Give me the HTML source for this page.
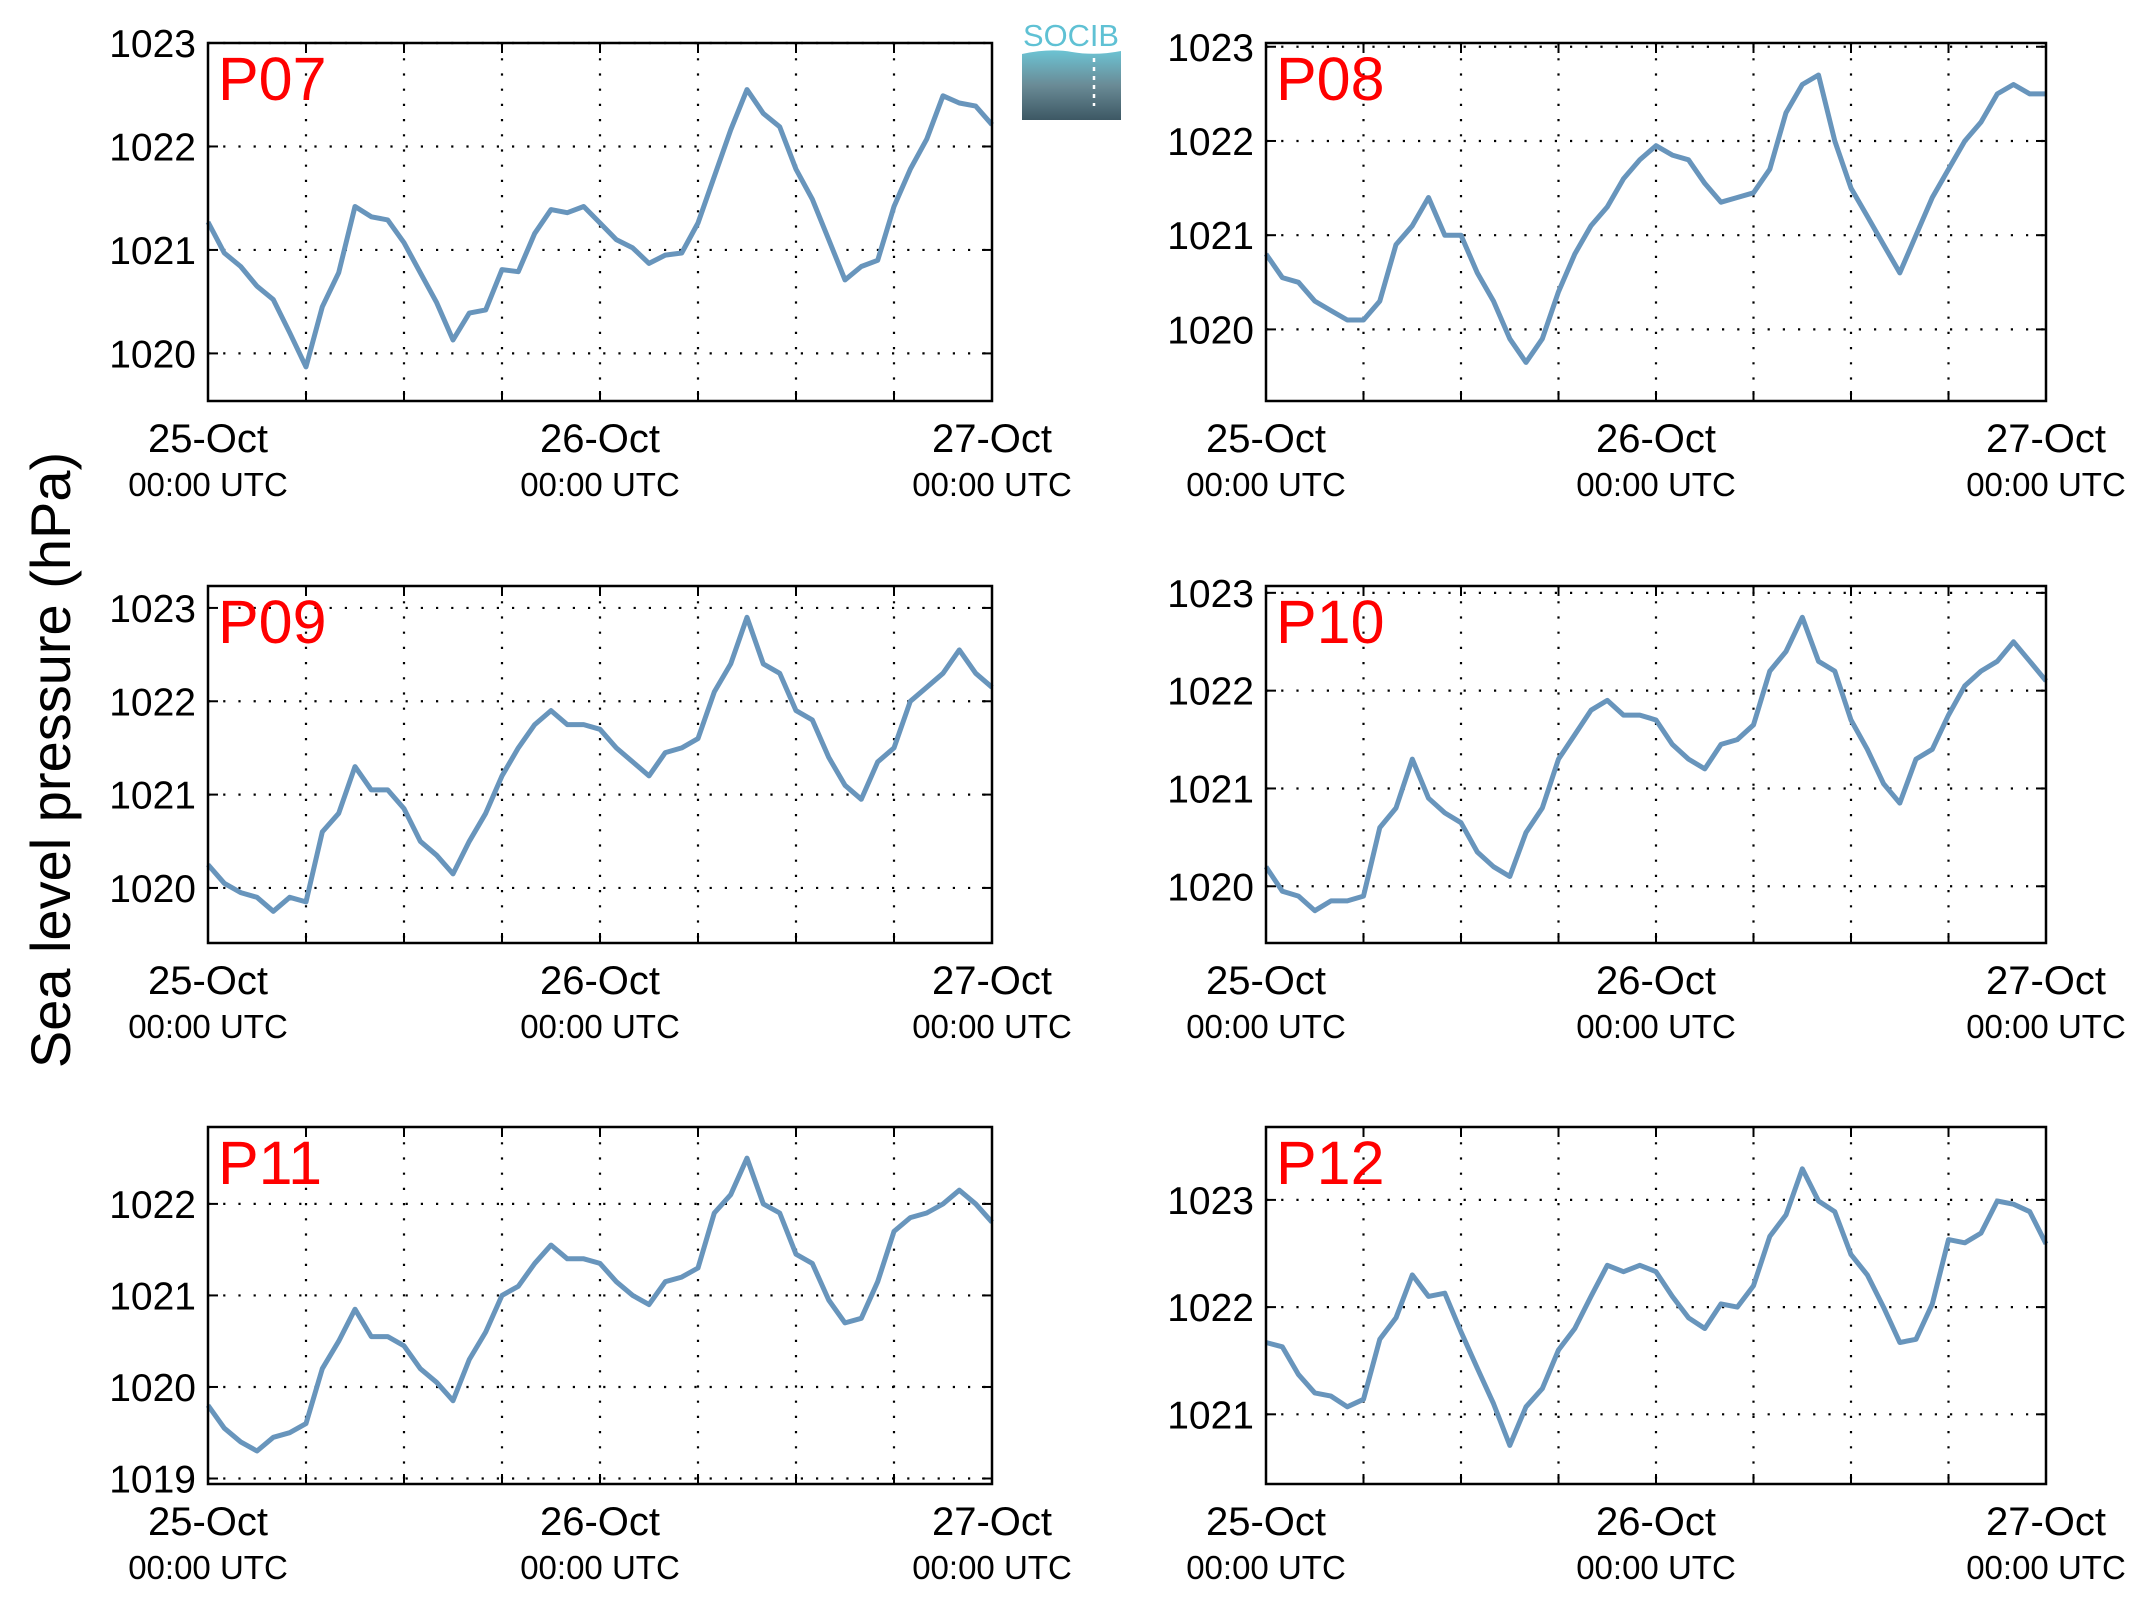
<!DOCTYPE html>
<html><head><meta charset="utf-8">
<style>
html,body{margin:0;padding:0;background:#fff;}
svg{display:block;font-family:"Liberation Sans",Arial,sans-serif;}
</style></head>
<body>
<svg id="chart" width="2138" height="1608" viewBox="0 0 2138 1608" xmlns="http://www.w3.org/2000/svg">
<defs>
<linearGradient id="lg" x1="0" y1="0" x2="0" y2="1">
<stop offset="0" stop-color="#6cc3d3"/><stop offset="0.5" stop-color="#6a8b96"/><stop offset="1" stop-color="#3d5864"/>
</linearGradient>
</defs>
<text x="0" y="0" transform="translate(70,760) rotate(-90)" text-anchor="middle" font-size="56">Sea level pressure (hPa)</text>
<g>
<text x="1071" y="46" text-anchor="middle" font-size="31" fill="#5fc1d4" textLength="96" lengthAdjust="spacingAndGlyphs">SOCIB</text>
<path d="M1022 54 Q1050 48 1072 52 Q1095 56 1121 51 L1121 120 L1022 120 Z" fill="url(#lg)"/>
<line x1="1094" y1="58" x2="1094" y2="106" stroke="#fff" stroke-width="2.5" stroke-dasharray="4,5"/>
</g>
</svg>
<script>
// Panel titles
const stations = ["P07","P08","P09","P10","P11","P12"];
// Hourly time index (hours since 25-Oct 00:00 UTC)
const hours = [0,1,2,3,4,5,6,7,8,9,10,11,12,13,14,15,16,17,18,19,20,21,22,23,24,25,26,27,28,29,30,31,32,33,34,35,36,37,38,39,40,41,42,43,44,45,46,47,48];
const dateLabels = ["25-Oct","26-Oct","27-Oct"];
const dateHours = [0,24,48];
// Series (hPa)
const p07 = [1021.27,1020.97,1020.84,1020.65,1020.52,1020.2,1019.87,1020.45,1020.78,1021.42,1021.32,1021.29,1021.07,1020.78,1020.49,1020.13,1020.39,1020.42,1020.81,1020.79,1021.16,1021.39,1021.36,1021.42,1021.26,1021.1,1021.02,1020.87,1020.95,1020.97,1021.26,1021.71,1022.16,1022.55,1022.32,1022.19,1021.78,1021.49,1021.1,1020.71,1020.84,1020.9,1021.42,1021.78,1022.07,1022.49,1022.42,1022.39,1022.21];
const p08 = [1020.8,1020.55,1020.5,1020.3,1020.2,1020.1,1020.1,1020.3,1020.9,1021.1,1021.4,1021.0,1021.0,1020.6,1020.3,1019.9,1019.65,1019.9,1020.4,1020.8,1021.1,1021.3,1021.6,1021.8,1021.95,1021.85,1021.8,1021.55,1021.35,1021.4,1021.45,1021.7,1022.3,1022.6,1022.7,1022.0,1021.5,1021.2,1020.9,1020.6,1021.0,1021.4,1021.7,1022.0,1022.2,1022.5,1022.6,1022.5,1022.5];
const p09 = [1020.25,1020.05,1019.95,1019.9,1019.75,1019.9,1019.85,1020.6,1020.8,1021.3,1021.05,1021.05,1020.85,1020.5,1020.35,1020.15,1020.5,1020.8,1021.2,1021.5,1021.75,1021.9,1021.75,1021.75,1021.7,1021.5,1021.35,1021.2,1021.45,1021.5,1021.6,1022.1,1022.4,1022.9,1022.4,1022.3,1021.9,1021.8,1021.4,1021.1,1020.95,1021.35,1021.5,1022.0,1022.15,1022.3,1022.55,1022.3,1022.15];
const p10 = [1020.2,1019.95,1019.9,1019.75,1019.85,1019.85,1019.9,1020.6,1020.8,1021.3,1020.9,1020.75,1020.65,1020.35,1020.2,1020.1,1020.55,1020.8,1021.3,1021.55,1021.8,1021.9,1021.75,1021.75,1021.7,1021.45,1021.3,1021.2,1021.45,1021.5,1021.65,1022.2,1022.4,1022.75,1022.3,1022.2,1021.7,1021.4,1021.05,1020.85,1021.3,1021.4,1021.75,1022.05,1022.2,1022.3,1022.5,1022.3,1022.1];
const p11 = [1019.8,1019.55,1019.4,1019.3,1019.45,1019.5,1019.6,1020.2,1020.5,1020.85,1020.55,1020.55,1020.45,1020.2,1020.05,1019.85,1020.3,1020.6,1021.0,1021.1,1021.35,1021.55,1021.4,1021.4,1021.35,1021.15,1021.0,1020.9,1021.15,1021.2,1021.3,1021.9,1022.1,1022.5,1022.0,1021.9,1021.45,1021.35,1020.95,1020.7,1020.75,1021.15,1021.7,1021.85,1021.9,1022.0,1022.15,1022.0,1021.8];
const p12 = [1021.67,1021.63,1021.37,1021.2,1021.17,1021.07,1021.14,1021.7,1021.9,1022.3,1022.1,1022.13,1021.77,1021.43,1021.1,1020.71,1021.07,1021.24,1021.6,1021.8,1022.1,1022.39,1022.33,1022.39,1022.33,1022.1,1021.9,1021.8,1022.03,1022.0,1022.2,1022.66,1022.86,1023.29,1022.99,1022.89,1022.49,1022.3,1022.0,1021.67,1021.7,1022.03,1022.63,1022.6,1022.69,1022.99,1022.96,1022.89,1022.59];
const series = [p07,p08,p09,p10,p11,p12];
// Y-axis ranges and ticks per panel
const yMins = [1019.54,1019.24,1019.41,1019.42,1018.94,1020.35];
const yMaxs = [1023.0,1023.04,1023.235,1023.07,1022.84,1023.68];
const yTicks = [[1020,1021,1022,1023],[1020,1021,1022,1023],[1020,1021,1022,1023],[1020,1021,1022,1023],[1019,1020,1021,1022],[1021,1022,1023]];

const NS="http://www.w3.org/2000/svg";
const svg=document.getElementById('chart');
const cols=[[208,992],[1266,2046]];
const rows=[[43,401],[586,943],[1127,1484]];
function mk(tag,attrs,parent){const e=document.createElementNS(NS,tag);for(const k in attrs)e.setAttribute(k,attrs[k]);parent.appendChild(e);return e;}

stations.forEach((name,i)=>{
  const [L,R]=cols[i%2];const [T,B]=rows[Math.floor(i/2)];
  const x=h=>L+(h-0)/(48-0)*(R-L);
  const y=v=>B-(v-yMins[i])/(yMaxs[i]-yMins[i])*(B-T);
  const g=mk('g',{},svg);
  
  
  for(let h=6;h<48;h+=6){
    const l=mk('line',{x1:x(h),x2:x(h),y1:T,y2:B,stroke:'#000','stroke-width':2.2,'stroke-dasharray':'2.2,13'},g);
    
    
    mk('line',{x1:x(h),x2:x(h),y1:B,y2:B-10,stroke:'#000','stroke-width':2},g);
    mk('line',{x1:x(h),x2:x(h),y1:T,y2:T+10,stroke:'#000','stroke-width':2},g);
  }
  yTicks[i].forEach(v=>{
    const l=mk('line',{x1:L,x2:R,y1:y(v),y2:y(v),stroke:'#000','stroke-width':2.2,'stroke-dasharray':'2.2,13'},g);
    
    
    mk('line',{x1:L,x2:L+10,y1:y(v),y2:y(v),stroke:'#000','stroke-width':2},g);
    mk('line',{x1:R,x2:R-10,y1:y(v),y2:y(v),stroke:'#000','stroke-width':2},g);
    const t=mk('text',{x:L-12,y:y(v)+14,'text-anchor':'end','font-size':39},g);
    t.textContent=v;
    
    
  });
  const d=hours.map((h,k)=>(k?'L':'M')+x(h).toFixed(1)+' '+y(series[i][k]).toFixed(1)).join(' ');
  const p=mk('path',{d:d,fill:'none',stroke:'#6895bc','stroke-width':5,'stroke-linejoin':'round'},g);
  
  
  const f=mk('rect',{x:L,y:T,width:R-L,height:B-T,fill:'none',stroke:'#000','stroke-width':2.5},g);
  
  
  const tt=mk('text',{x:L+10,y:T+57,'font-size':61,fill:'#ff0000'},g);
  tt.textContent=name;
  
  
  dateLabels.forEach((lab,k)=>{
    const t1=mk('text',{x:x(dateHours[k]),y:B+51,'text-anchor':'middle','font-size':40},g);
    t1.textContent=lab;
    
    
    const t2=mk('text',{x:x(dateHours[k]),y:B+95,'text-anchor':'middle','font-size':33},g);
    t2.textContent='00:00 UTC';
    
    
  });
});
</script>
</body></html>
